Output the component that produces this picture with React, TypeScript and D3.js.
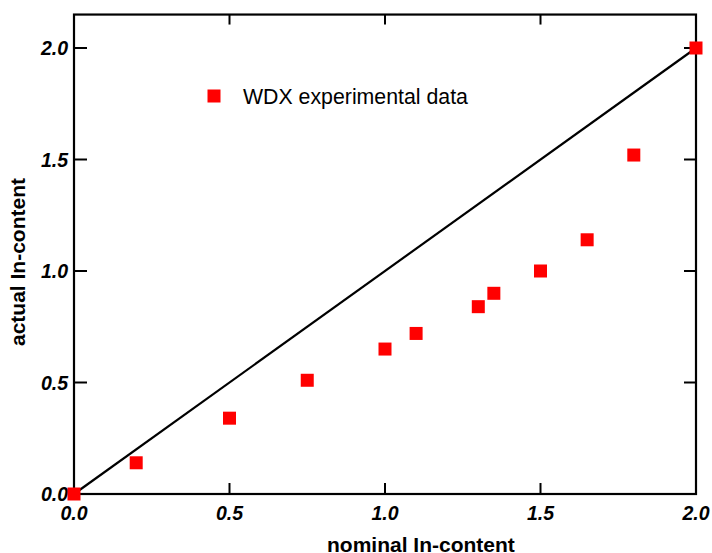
import React from "react";
import * as d3 from "d3";

const nominal = [0, 0.2, 0.5, 0.75, 1.0, 1.1, 1.3, 1.35, 1.5, 1.65, 1.8, 2.0];
const actual = [0, 0.14, 0.34, 0.51, 0.65, 0.72, 0.84, 0.9, 1.0, 1.14, 1.52, 2.0];
const refLine = [0, 2];
const ticks = [0, 0.5, 1.0, 1.5, 2.0];
const innerTicks = [0.5, 1.0, 1.5];
const legendLabel = "WDX experimental data";
const xTitle = "nominal In-content";
const yTitle = "actual In-content";

export default function App() {
  const W = 712, H = 553;
  const x = d3.scaleLinear().domain([0, 2]).range([74, 696]);
  const y = d3.scaleLinear().domain([0, 2]).range([494, 48]);
  const yTop = 2.15;
  const fmt = d3.format(".1f");
  const line = d3.line<number>().x((d) => x(d)).y((d) => y(d));
  const sq = 13;
  const font = "Liberation Sans, Arial, sans-serif";
  return (
    <svg width={W} height={H} style={{ position: "absolute", left: 0, top: 0, background: "#fff" }} fontFamily={font}>
      <rect x={x(0)} y={y(yTop)} width={x(2) - x(0)} height={y(0) - y(yTop)} fill="none" stroke="#000" strokeWidth={2.2} />
      {ticks.map((t) => (
        <g key={"l" + t}>
          <line x1={x(0)} x2={x(0) + 13} y1={y(t)} y2={y(t)} stroke="#000" strokeWidth={2} />
          <text x={68} y={y(t)} dy="0.36em" textAnchor="end" fontSize={19.5} fontWeight="bold" fontStyle="italic">{fmt(t)}</text>
          <line x1={x(2)} x2={x(2) - 12} y1={y(t)} y2={y(t)} stroke="#000" strokeWidth={2} />
          <text x={x(t)} y={513} dy="0.36em" textAnchor="middle" fontSize={19.5} fontWeight="bold" fontStyle="italic">{fmt(t)}</text>
        </g>
      ))}
      {innerTicks.map((t) => (
        <g key={"b" + t}>
          <line x1={x(t)} x2={x(t)} y1={y(0)} y2={y(0) - 11} stroke="#000" strokeWidth={2} />
          <line x1={x(t)} x2={x(t)} y1={y(yTop)} y2={y(yTop) + 10} stroke="#000" strokeWidth={2} />
        </g>
      ))}
      <path d={line(refLine) || ""} fill="none" stroke="#000" strokeWidth={2.2} />
      {nominal.map((n, i) => (
        <rect key={i} x={x(n) - sq / 2} y={y(actual[i]) - sq / 2} width={sq} height={sq} fill="#ff0000" />
      ))}
      <rect x={214 - sq / 2} y={96 - sq / 2} width={sq} height={sq} fill="#ff0000" />
      <text x={243} y={96} dy="0.36em" fontSize={21.3}>{legendLabel}</text>
      <text x={327} y={552} textAnchor="start" fontSize={21} fontWeight="bold">{xTitle}</text>
      <text transform={`translate(25,262) rotate(-90)`} textAnchor="middle" fontSize={21} fontWeight="bold">{yTitle}</text>
    </svg>
  );
}
